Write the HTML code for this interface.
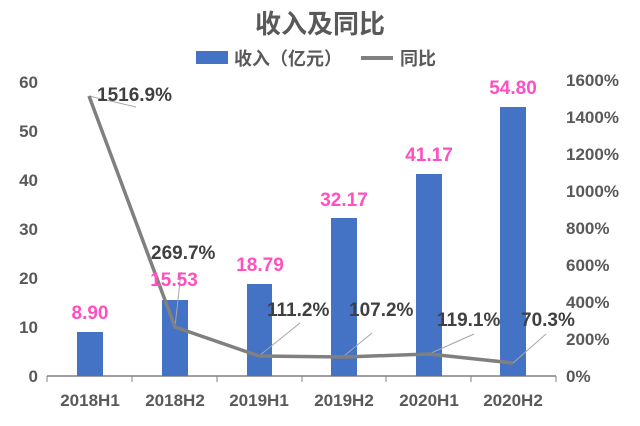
<!DOCTYPE html>
<html><head><meta charset="utf-8"><style>
body{margin:0;background:#fff;}
svg text{font-family:"Liberation Sans","Noto Sans CJK SC",sans-serif;font-weight:bold;}
</style></head><body>
<svg width="640" height="421" viewBox="0 0 640 421" xmlns="http://www.w3.org/2000/svg">
<text x="320" y="33" text-anchor="middle" font-size="26" fill="#595959">收入及同比</text>
<rect x="196" y="51" width="32" height="13" fill="#4472c4"/>
<text x="234" y="65" font-size="18" fill="#595959">收入（亿元）</text>
<line x1="361" y1="58" x2="393" y2="58" stroke="#808080" stroke-width="4"/>
<text x="400" y="65" font-size="18" fill="#595959">同比</text>
<g font-size="17" fill="#595959" text-anchor="end">
<text x="38" y="382">0</text><text x="38" y="333">10</text><text x="38" y="284">20</text>
<text x="38" y="235">30</text><text x="38" y="186">40</text><text x="38" y="137">50</text><text x="38" y="88">60</text>
</g>
<g font-size="17" fill="#595959" text-anchor="start">
<text x="566" y="382">0%</text><text x="566" y="345">200%</text><text x="566" y="308">400%</text>
<text x="566" y="271">600%</text><text x="566" y="234">800%</text><text x="566" y="197">1000%</text>
<text x="566" y="160">1200%</text><text x="566" y="123">1400%</text><text x="566" y="86">1600%</text>
</g>
<line x1="47" y1="376" x2="556" y2="376" stroke="#808080" stroke-width="1.5"/>
<g stroke="#808080" stroke-width="1">
<line x1="47" y1="376" x2="47" y2="382"/><line x1="132" y1="376" x2="132" y2="382"/><line x1="217" y1="376" x2="217" y2="382"/>
<line x1="302" y1="376" x2="302" y2="382"/><line x1="386" y1="376" x2="386" y2="382"/><line x1="471" y1="376" x2="471" y2="382"/><line x1="556" y1="376" x2="556" y2="382"/>
</g>
<g fill="#4472c4">
<rect x="77" y="332" width="26" height="44"/>
<rect x="162" y="300" width="26" height="76"/>
<rect x="247" y="284" width="25" height="92"/>
<rect x="331" y="218" width="26" height="158"/>
<rect x="416" y="174" width="26" height="202"/>
<rect x="500" y="107" width="26" height="269"/>
</g>
<g font-size="17" fill="#595959" text-anchor="middle">
<text x="90" y="406">2018H1</text><text x="175" y="406">2018H2</text><text x="259" y="406">2019H1</text>
<text x="344" y="406">2019H2</text><text x="429" y="406">2020H1</text><text x="513" y="406">2020H2</text>
</g>
<g stroke="#a6a6a6" stroke-width="1">
<line x1="89" y1="96" x2="136" y2="107"/>
<line x1="175" y1="327" x2="181" y2="272"/>
<line x1="259" y1="356" x2="300" y2="323"/>
<line x1="344" y1="356" x2="372" y2="333"/>
<line x1="429" y1="354" x2="474" y2="334"/>
<line x1="513" y1="363" x2="546" y2="334"/>
</g>
<polyline points="89,96 175,327 259,356 344,357 429,354 513,363" fill="none" stroke="#808080" stroke-width="3.5" stroke-linejoin="round"/>
<g font-size="19" fill="#ff4fc0" text-anchor="middle">
<text x="90" y="319">8.90</text><text x="174" y="286">15.53</text><text x="260" y="271">18.79</text>
<text x="344" y="206">32.17</text><text x="429" y="161">41.17</text><text x="513" y="94">54.80</text>
</g>
<g font-size="19" fill="#404040" text-anchor="start">
<text x="97" y="101">1516.9%</text>
<text x="151" y="259">269.7%</text>
<text x="267" y="316">111.2%</text>
<text x="349" y="316">107.2%</text>
<text x="437" y="326">119.1%</text>
<text x="521" y="326">70.3%</text>
</g>
</svg>
</body></html>
